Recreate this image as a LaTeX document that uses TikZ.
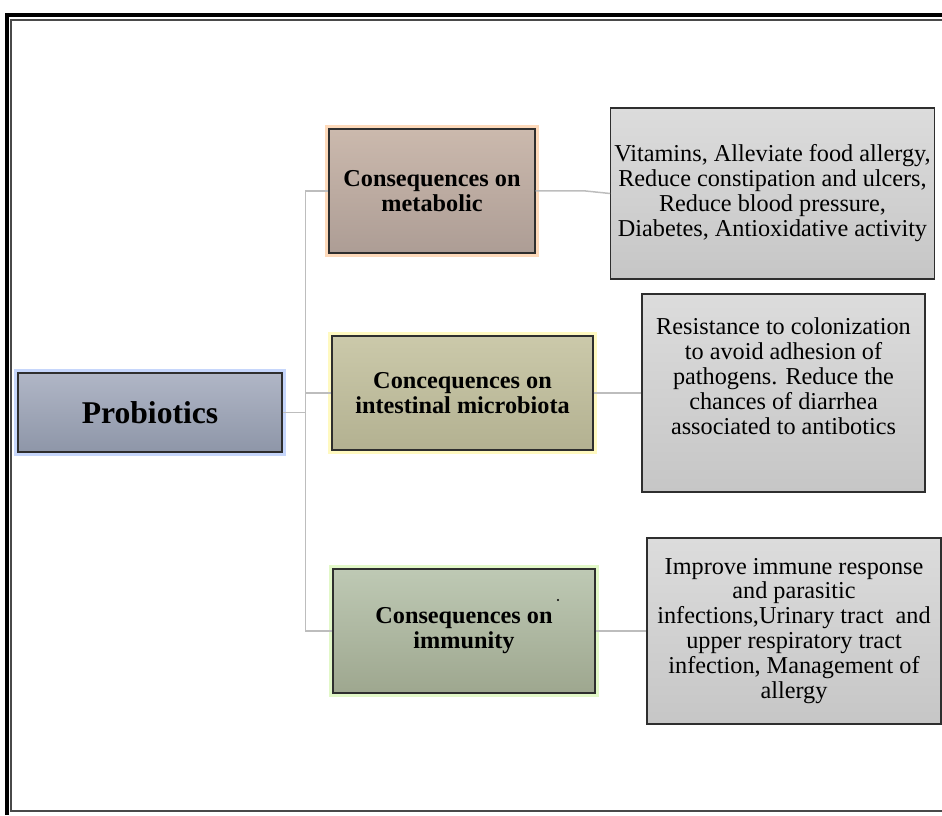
\documentclass[tikz,border=0pt]{standalone}
\usepackage{fontspec}
\setmainfont{Liberation Serif}
\usetikzlibrary{positioning}
\definecolor{mapLine}{HTML}{BDBDBD}
\definecolor{mapEdge}{HTML}{2E2E2E}
\definecolor{mapFrame}{HTML}{4A4A4A}
\definecolor{probTop}{HTML}{B0B6C6}
\definecolor{probBot}{HTML}{8E96A8}
\definecolor{probGlow}{HTML}{C6D6FB}
\definecolor{metTop}{HTML}{CBB9AD}
\definecolor{metBot}{HTML}{AD9D95}
\definecolor{metGlow}{HTML}{FDD9BA}
\definecolor{micTop}{HTML}{CBC9AA}
\definecolor{micBot}{HTML}{B3B191}
\definecolor{micGlow}{HTML}{FFF9C0}
\definecolor{immTop}{HTML}{BEC9B4}
\definecolor{immBot}{HTML}{9EA78F}
\definecolor{immGlow}{HTML}{E2F8C8}
\definecolor{fxTop}{HTML}{DCDCDC}
\definecolor{fxBot}{HTML}{C6C6C6}
\tikzset{
  mapfig/.style={
    every node/.append style={font=\fontsize{13.8pt}{14.2pt}\selectfont},
  },
  glowbox/.style={
    draw=mapEdge, line width=0.8pt, align=center, inner sep=2pt,
    preaction={draw=#1, line width=4.5pt},
  },
  rootnode/.style={glowbox=probGlow, top color=probTop, bottom color=probBot,
    minimum width=5.28cm, minimum height=1.58cm,
    font=\fontsize{18pt}{20pt}\selectfont\bfseries},
  areanode/.style={glowbox=#1,
    minimum height=2.48cm,
    font=\fontsize{13.8pt}{14.2pt}\selectfont\bfseries},
  fxnode/.style={draw=mapEdge, line width=0.8pt, align=center, inner sep=2pt,
    top color=fxTop, bottom color=fxBot},
  link/.style={draw=mapLine, line width=0.85pt},
}
\begin{document}
\begin{tikzpicture}[mapfig]
  \useasboundingbox (0,0) rectangle (18.84,16.3);
  % Rahmen: links und oben kraeftig, innen eine duenne Linie
  \draw[line width=2.8pt] (0.14,0) -- (0.14,16.0) -- (18.84,16.0);
  \draw[mapFrame, line width=0.7pt] (18.84,15.9) -- (0.22,15.9) -- (0.22,0.08) -- (18.84,0.08);

  \node[rootnode] (Probiotics) at (3.0,8.05) {Probiotics};
  \node[areanode=metGlow, top color=metTop, bottom color=metBot,
    minimum width=4.12cm] (Metabolic) at (8.64,12.48) {Consequences on\\metabolic};
  \node[areanode=micGlow, top color=micTop, bottom color=micBot,
    minimum width=5.22cm, minimum height=2.28cm] (Microbiota) at (9.25,8.44)
    {Concequences on\\intestinal microbiota};
  \node[areanode=immGlow, top color=immTop, bottom color=immBot,
    minimum width=5.24cm] (Immunity) at (9.28,3.68) {Consequences on\\immunity};
  \fill[black] (11.16,4.3) circle (0.6pt);

  \node[fxnode, minimum width=6.42cm, minimum height=3.42cm] (MetabolicFx) at (15.45,12.43)
    {Vitamins, Alleviate food allergy,\\Reduce constipation and ulcers,\\Reduce blood pressure,\\Diabetes, Antioxidative activity};
  \node[fxnode, minimum width=5.66cm, minimum height=3.96cm] (MicrobiotaFx) at (15.67,8.44)
    {Resistance to colonization\\to avoid adhesion of\\pathogens. Reduce the\\chances of diarrhea\\associated to antibotics\\[5pt]\mbox{}};
  \node[fxnode, minimum width=5.88cm, minimum height=3.72cm] (ImmunityFx) at (15.88,3.68)
    {Improve immune response\\and parasitic\\infections,Urinary tract\ \ and\\upper respiratory tract\\infection, Management of\\allergy};

  \coordinate (Hub) at ([xshift=0.46cm]Probiotics.east);
  \draw[link] (Probiotics.east) -- (Hub);
  \draw[link] (Hub) |- (Metabolic.west);
  \draw[link] (Hub) |- (Microbiota.west);
  \draw[link] (Hub) |- (Immunity.west);
  \draw[link] (Metabolic.east) -- ++(1.0,0) -- (MetabolicFx.west);
  \draw[link] (Microbiota.east) -- (MicrobiotaFx.west);
  \draw[link] (Immunity.east) -- (ImmunityFx.west);
\end{tikzpicture}
\end{document}
